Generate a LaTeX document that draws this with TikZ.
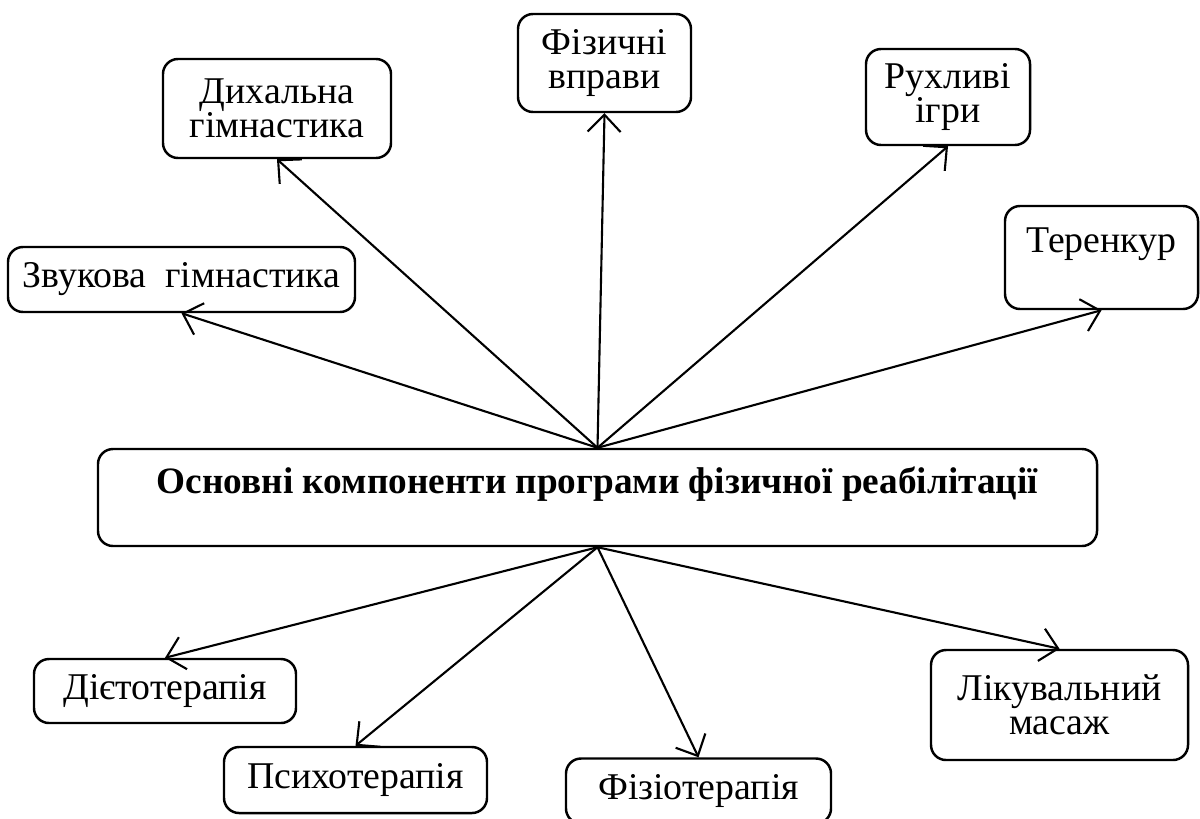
\documentclass[tikz,border=0pt]{standalone}
\usepackage{fontspec}
\setmainfont{Liberation Serif}
\usetikzlibrary{arrows.meta}
\begin{document}
\begin{tikzpicture}[
  kasten/.style={draw, line width=1.4pt, rounded corners=0.3cm, align=center,
    inner sep=0pt, font=\fontsize{21.5}{19.5}\selectfont},
  pfeil/.style={line width=1.2pt, -{Straight Barb[length=3.4mm,width=6.6mm,line width=1.2pt]}}]
  \useasboundingbox (0,0) rectangle (24,-16.36);
  % Hauptknoten
  \node[kasten, minimum width=19.98cm, minimum height=1.94cm,
    font=\fontsize{21.2}{19.5}\selectfont\bfseries] (main) at (11.95,-9.95)
    {Основні компоненти програми фізичної реабілітації\\ ~};
  % oben
  \node[kasten, minimum width=4.56cm, minimum height=1.98cm] (dych) at (5.54,-2.17)
    {Дихальна\\гімнастика};
  \node[kasten, minimum width=3.46cm, minimum height=1.96cm] (fiz) at (12.09,-1.26)
    {Фізичні\\вправи};
  \node[kasten, minimum width=3.28cm, minimum height=1.92cm] (ruh) at (18.96,-1.94)
    {Рухливі\\ігри};
  \node[kasten, minimum width=6.94cm, minimum height=1.30cm] (zvuk) at (3.63,-5.59)
    {Звукова\ \ гімнастика};
  \node[kasten, minimum width=3.86cm, minimum height=2.06cm] (teren) at (22.03,-5.15)
    {Теренкур\\ ~};
  % unten
  \node[kasten, minimum width=5.24cm, minimum height=1.28cm] (diet) at (3.3,-13.82)
    {Дієтотерапія};
  \node[kasten, minimum width=5.26cm, minimum height=1.32cm] (psych) at (7.11,-15.6)
    {Психотерапія};
  \node[kasten, minimum width=5.3cm, minimum height=1.3cm] (fizio) at (13.97,-15.82)
    {Фізіотерапія};
  \node[kasten, minimum width=5.14cm, minimum height=2.2cm] (likuv) at (21.19,-14.1)
    {Лікувальний\\масаж};
  % Pfeile
  \foreach \z in {dych,fiz,ruh,zvuk,teren}
    \draw[pfeil] (main.north) -- (\z.south);
  \foreach \z in {diet,psych,fizio,likuv}
    \draw[pfeil] (main.south) -- (\z.north);
\end{tikzpicture}
\end{document}
